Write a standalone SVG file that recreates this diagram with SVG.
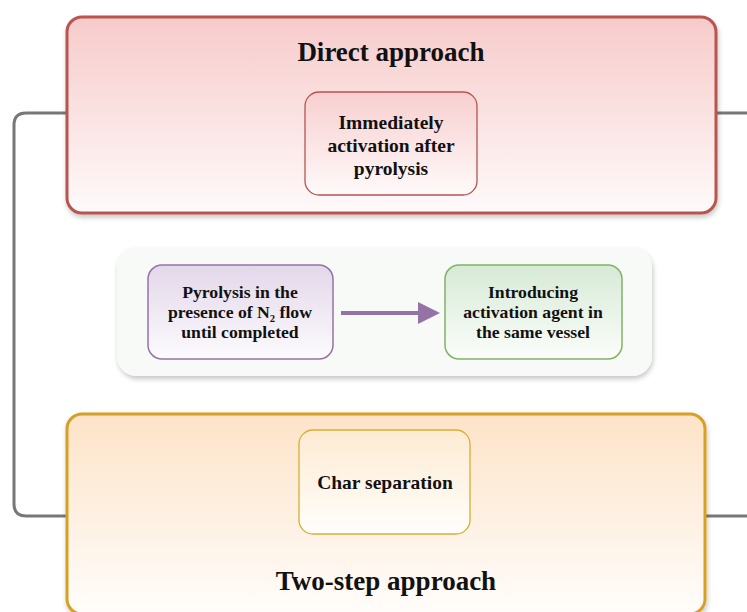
<svg xmlns="http://www.w3.org/2000/svg" width="747" height="612" viewBox="0 0 747 612">
<defs>
<linearGradient id="gRed" x1="0" y1="0" x2="0" y2="1"><stop offset="0" stop-color="#f6cbca"/><stop offset="1" stop-color="#fffafa"/></linearGradient>
<linearGradient id="gOrange" x1="0" y1="0" x2="0" y2="1"><stop offset="0" stop-color="#fde3c8"/><stop offset="1" stop-color="#fffdfb"/></linearGradient>
<linearGradient id="gYellow" x1="0" y1="0" x2="0" y2="1"><stop offset="0" stop-color="#fdebd2"/><stop offset="1" stop-color="#fffefc"/></linearGradient>
<linearGradient id="gPurple" x1="0" y1="0" x2="0" y2="1"><stop offset="0" stop-color="#e3d7ea"/><stop offset="1" stop-color="#fcfbfd"/></linearGradient>
<linearGradient id="gGreen" x1="0" y1="0" x2="0" y2="1"><stop offset="0" stop-color="#d6ead5"/><stop offset="1" stop-color="#fbfdfb"/></linearGradient>
<linearGradient id="gInner" x1="0" y1="0" x2="0" y2="1"><stop offset="0" stop-color="#f8cfcf"/><stop offset="1" stop-color="#fffafa"/></linearGradient>
<filter id="sh" x="-10%" y="-10%" width="120%" height="130%"><feDropShadow dx="1" dy="3" stdDeviation="2.5" flood-color="#000" flood-opacity="0.22"/></filter>
</defs>
<style>
text{font-family:"Liberation Serif","Times New Roman",serif;font-weight:bold;fill:#111;text-anchor:middle}
.t{font-size:27px}
.s{font-size:19.5px}
.m{font-size:17.7px}
.conn{fill:none;stroke:#777;stroke-width:3}
</style>
<rect width="747" height="612" fill="#fff"/>
<g id="connectors">
<path class="conn" d="M70,113 H26 Q14,113 14,125 V504 Q14,516 26,516 H70"/>
<path class="conn" d="M712,113 H747"/>
<path class="conn" d="M702,516 H747"/>
</g>
<g id="direct">
<rect x="67" y="17" width="649" height="196" rx="15" fill="url(#gRed)" stroke="#b85450" stroke-width="3" filter="url(#sh)"/>
<text class="t" x="391" y="61">Direct approach</text>
</g>
<g id="immediately">
<rect x="305" y="92" width="172" height="103" rx="14" fill="url(#gInner)" stroke="#b85450" stroke-width="1.3"/>
<text class="s" x="391" y="129">Immediately</text>
<text class="s" x="391" y="152">activation after</text>
<text class="s" x="391" y="175">pyrolysis</text>
</g>
<g id="middle">
<rect x="117" y="247" width="535" height="129" rx="20" fill="#f7faf7" filter="url(#sh)"/>
</g>
<g id="pyrolysis">
<rect x="148" y="265" width="185" height="94" rx="14" fill="url(#gPurple)" stroke="#9673a6" stroke-width="1.5"/>
<text class="m" x="240" y="298">Pyrolysis in the</text>
<text class="m" x="240" y="318">presence of N₂ flow</text>
<text class="m" x="240" y="338">until completed</text>
</g>
<g id="introducing">
<rect x="445" y="265" width="177" height="94" rx="14" fill="url(#gGreen)" stroke="#82b366" stroke-width="1.5"/>
<text class="m" x="533" y="298">Introducing</text>
<text class="m" x="533" y="318">activation agent in</text>
<text class="m" x="533" y="338">the same vessel</text>
</g>
<g id="connectors-arrow">
<path d="M341,313 H420" stroke="#9673a6" stroke-width="4" fill="none"/>
<path d="M418,302 L440,313 L418,324 Z" fill="#9673a6"/>
</g>
<g id="twostep">
<rect x="67" y="414" width="638" height="200" rx="15" fill="url(#gOrange)" stroke="#d6a021" stroke-width="3" filter="url(#sh)"/>
<text class="t" x="386" y="590">Two-step approach</text>
</g>
<g id="char">
<rect x="299" y="430" width="171" height="104" rx="14" fill="url(#gYellow)" stroke="#d6b030" stroke-width="1.3"/>
<text class="s" x="385" y="489">Char separation</text>
</g>
</svg>
